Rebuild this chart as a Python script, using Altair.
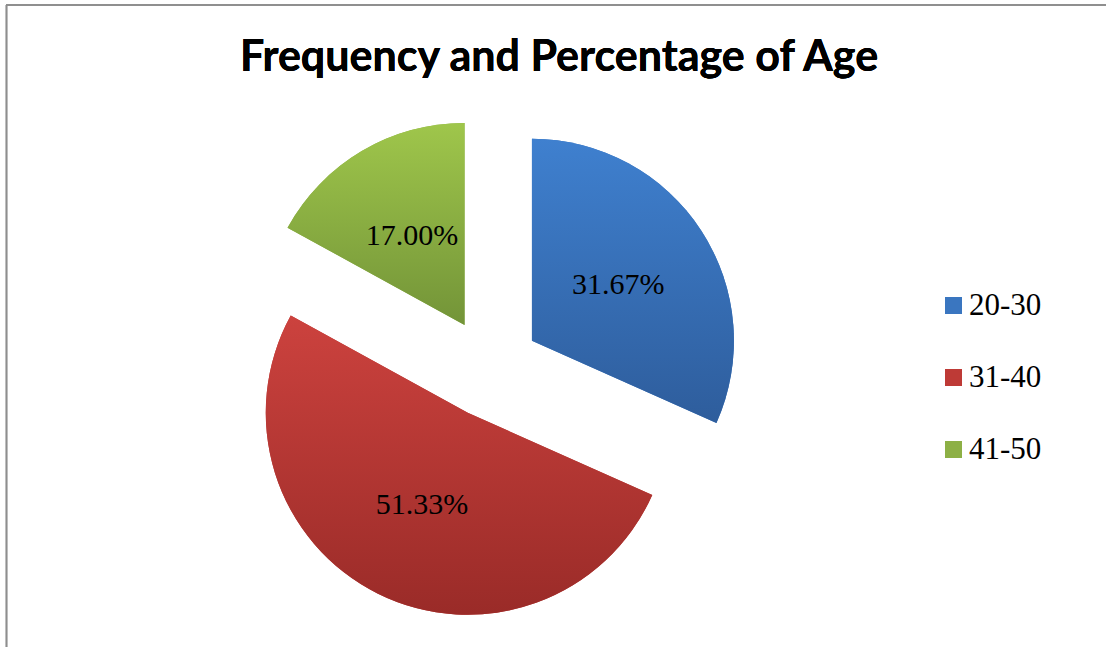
import altair as alt
import pandas as pd

# ---- data ----
age_groups = ["20-30", "31-40", "41-50"]
percentages = [31.67, 51.33, 17.00]
title_text = "Frequency and Percentage of Age"

# ---- styling / layout ----
flat_colors = ["#3A76C0", "#BE3A36", "#8DB045"]
grad_stops = {
    "20-30": ("#3F80CF", "#2E5D9C"),
    "31-40": ("#CC423E", "#9A2B28"),
    "41-50": ("#9FC64B", "#739438"),
}
CX, CY = 490, 368     # pie centre (px)
EXPLODE = 50          # explode distance (px)
R = 202               # radius (px)
LABEL_R = 153         # label distance from centre (px)

df = pd.DataFrame({"age": age_groups, "pct": percentages})

base = (
    alt.Chart(df)
    .transform_joinaggregate(total="sum(pct)")
    .transform_window(cum="sum(pct)", sort=[alt.SortField("age")])
    .transform_calculate(
        a0="2*PI*(datum.cum - datum.pct)/datum.total",
        a1="2*PI*datum.cum/datum.total",
    )
    .transform_calculate(amid="(datum.a0 + datum.a1)/2")
    .transform_calculate(
        cx=f"{CX} + {EXPLODE}*sin(datum.amid)",
        cy=f"{CY} - {EXPLODE}*cos(datum.amid)",
        lx=f"{CX} + {LABEL_R}*sin(datum.amid)",
        ly=f"{CY} - {LABEL_R}*cos(datum.amid)",
        label="format(datum.pct, '.2f') + '%'",
    )
)

enc = dict(
    theta=alt.Theta("a0:Q", scale=None, stack=None),
    theta2="a1:Q",
    x=alt.X("cx:Q", scale=None),
    y=alt.Y("cy:Q", scale=None),
)

flat = base.mark_arc(radius=R).encode(
    color=alt.Color(
        "age:N",
        scale=alt.Scale(domain=age_groups, range=flat_colors),
        legend=alt.Legend(
            title=None,
            orient="none",
            legendX=938,
            legendY=290,
            symbolType="square",
            symbolSize=289,
            symbolStrokeWidth=0,
            labelFont="Liberation Serif",
            labelFontSize=31,
            labelColor="#000000",
            labelOffset=0,
            rowPadding=40,
        ),
    ),
    **enc,
)

layers = [flat]
for g in age_groups:
    top, bot = grad_stops[g]
    grad = alt.Gradient(
        gradient="linear",
        stops=[alt.GradientStop(color=top, offset=0), alt.GradientStop(color=bot, offset=1)],
        x1=0, x2=0, y1=0, y2=1,
    )
    layers.append(
        base.transform_filter(alt.datum.age == g).mark_arc(radius=R, fill=grad).encode(**enc)
    )

labels = base.mark_text(
    font="Liberation Serif", fontSize=30, color="#000000", align="center", baseline="middle"
).encode(x=alt.X("lx:Q", scale=None), y=alt.Y("ly:Q", scale=None), text="label:N")

title = alt.Chart(df).mark_text(
    font="Lato", fontSize=43, fontWeight="bold", color="#000000",
    align="center", baseline="alphabetic",
).encode(x=alt.value(559), y=alt.value(71), text=alt.value(title_text))

border_top = alt.Chart(df).mark_rule(color="#8E8E8E", strokeWidth=1.5).encode(
    x=alt.value(6), x2=alt.value(1106), y=alt.value(5)
)
border_left = alt.Chart(df).mark_rule(color="#8E8E8E", strokeWidth=1.5).encode(
    x=alt.value(6.5), y=alt.value(5), y2=alt.value(647)
)

chart = (
    alt.layer(border_top, border_left, *layers, labels, title)
    .properties(
        width=1106,
        height=647,
        padding=0,
        autosize=alt.AutoSizeParams(type="none"),
    )
    .configure_view(strokeWidth=0)
)

chart.save("out.html", embed_options={"renderer": "svg", "actions": False})
